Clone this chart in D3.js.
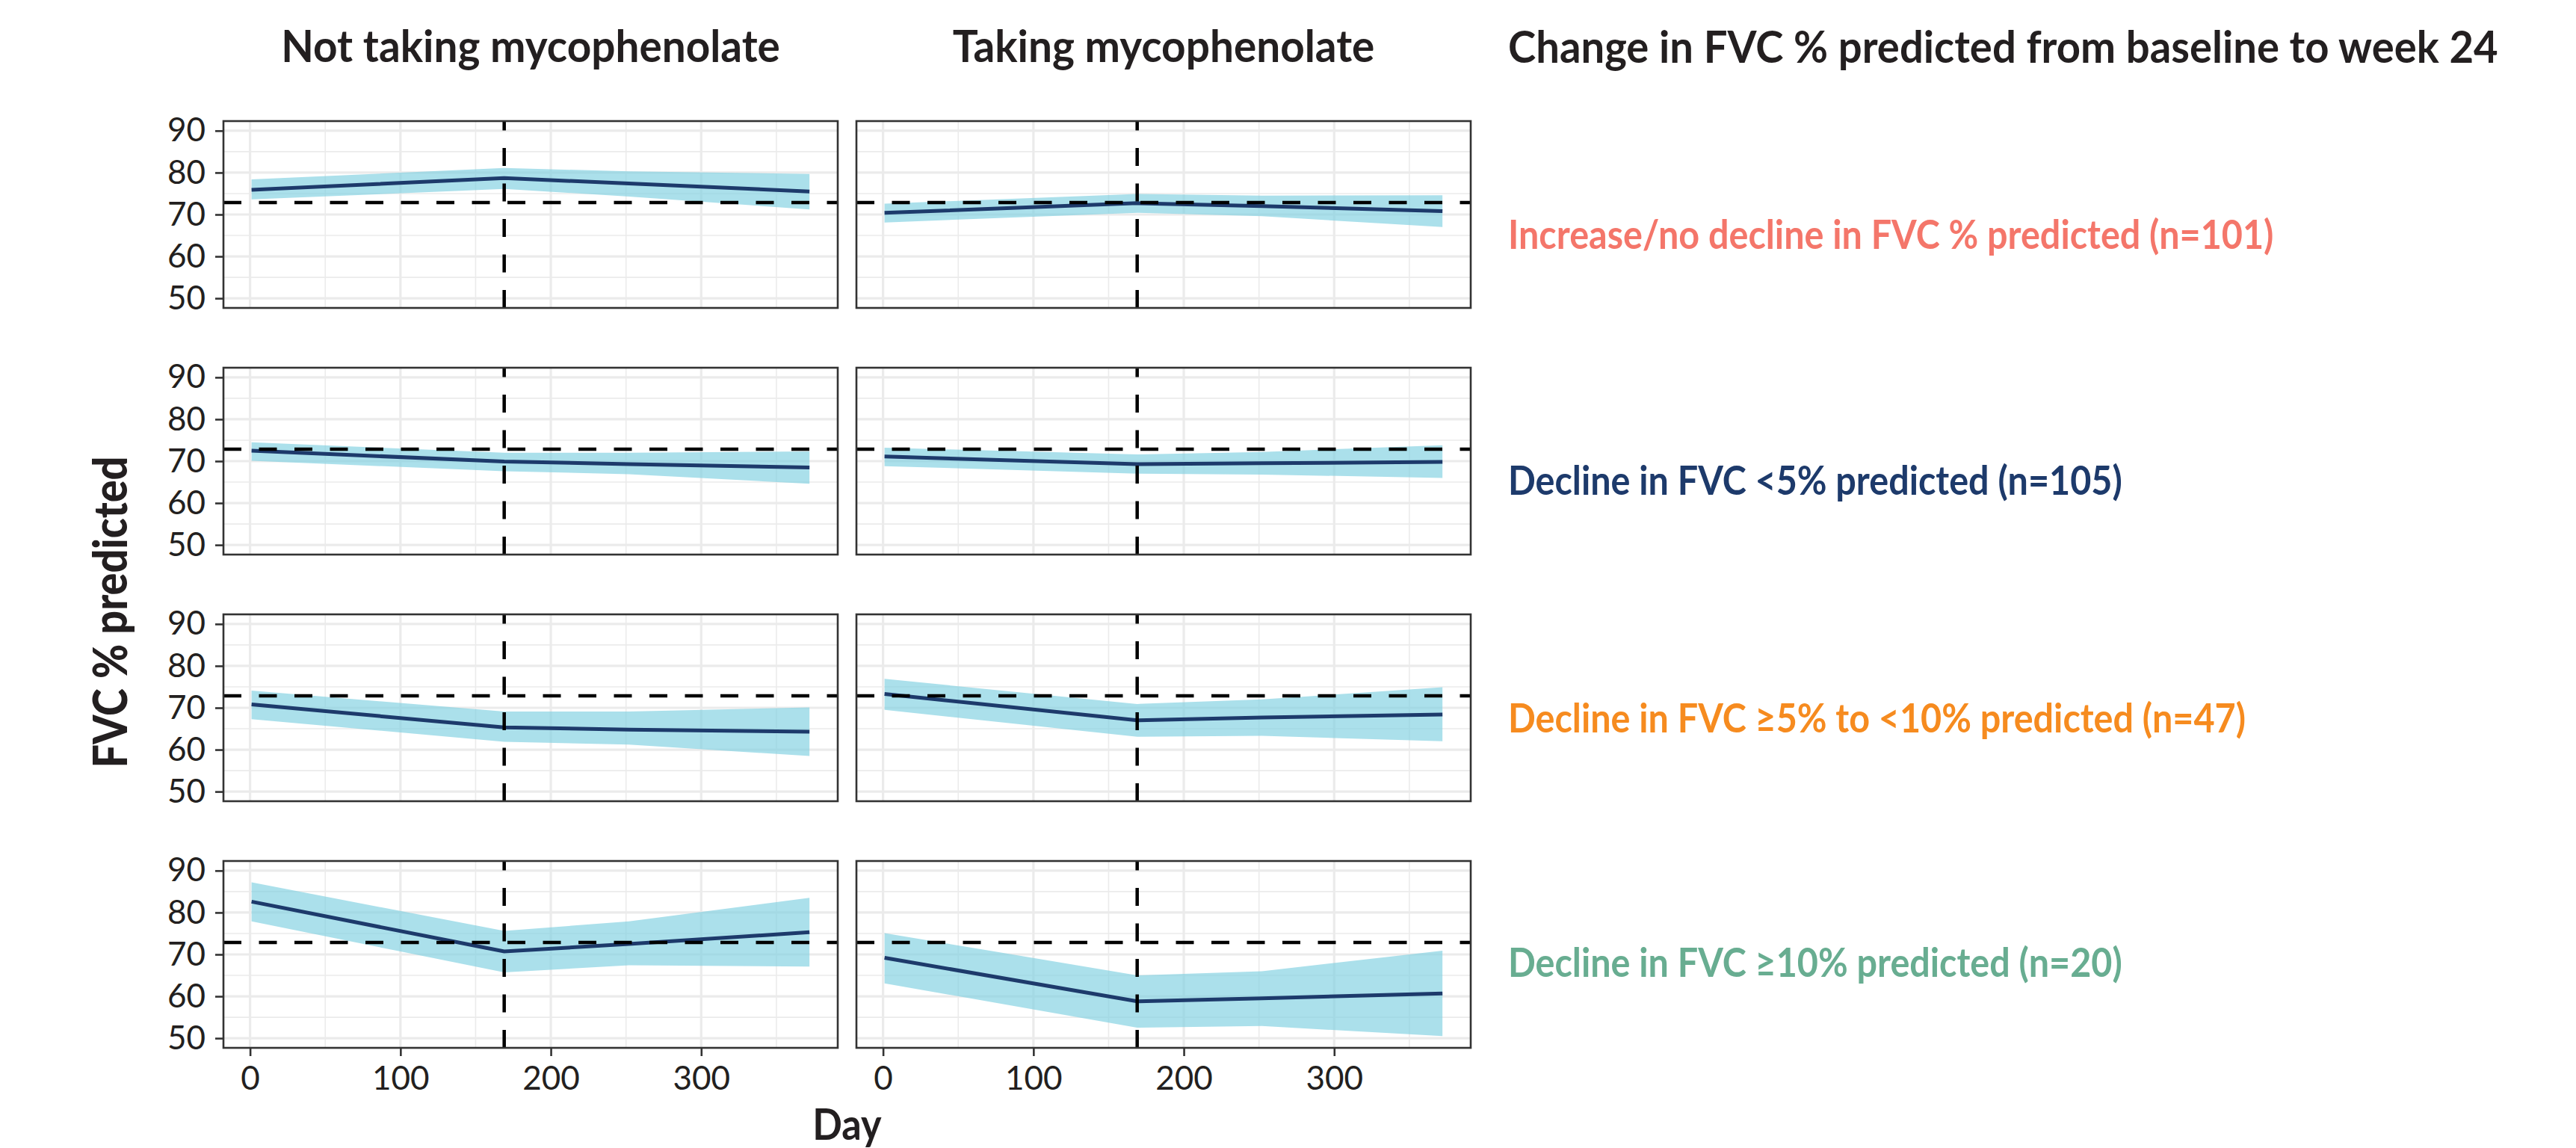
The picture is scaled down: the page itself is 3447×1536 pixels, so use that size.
<!DOCTYPE html>
<html>
<head>
<meta charset="utf-8">
<script src="https://cdn.jsdelivr.net/npm/d3@7"></script>
<style>
	body { margin: 0; background: #fff; }
	svg { display: block; font-family: Lato, 'Open Sans', sans-serif; }
</style>
</head>
<body>
<div id="app"></div>
<script>
// facets
const columns = ['Not taking mycophenolate', 'Taking mycophenolate'];
const groups = [
	'Increase/no decline in FVC % predicted (n=101)',
	'Decline in FVC <5% predicted (n=105)',
	'Decline in FVC \u22655% to <10% predicted (n=47)',
	'Decline in FVC \u226510% predicted (n=20)',
];
const groupColors = ['#f4766a', '#1d3a6b', '#f68b1f', '#68ad91'];
const legendTitle = 'Change in FVC % predicted from baseline to week 24';

// model estimates at each visit day, one row per group
const days = [1, 169, 252, 372];
const notTakingMean = [
	[75.9, 78.7, 77.4, 75.5],
	[72.5, 69.9, 69.3, 68.5],
	[70.8, 65.3, 64.8, 64.3],
	[82.6, 70.7, 72.5, 75.3],
];
const notTakingUpper = [
	[78.4, 81.1, 80.3, 79.7],
	[74.5, 72.0, 72.0, 72.3],
	[74.1, 69.1, 69.1, 70.1],
	[87.2, 75.6, 77.9, 83.5],
];
const notTakingLower = [
	[73.6, 76.1, 74.3, 71.2],
	[70.1, 67.6, 66.9, 64.6],
	[67.3, 61.9, 61.2, 58.5],
	[77.9, 65.7, 67.4, 67.1],
];
const takingMean = [
	[70.4, 72.7, 72.0, 70.8],
	[71.1, 69.3, 69.5, 69.8],
	[73.3, 67.0, 67.7, 68.4],
	[69.2, 58.8, 59.5, 60.7],
];
const takingUpper = [
	[72.6, 74.9, 74.5, 74.6],
	[73.2, 71.6, 72.2, 73.8],
	[76.9, 70.9, 72.0, 74.9],
	[75.1, 65.0, 66.0, 70.9],
];
const takingLower = [
	[68.1, 70.4, 69.6, 67.0],
	[68.8, 67.0, 66.8, 66.0],
	[69.5, 63.1, 63.3, 62.0],
	[63.1, 52.5, 52.9, 50.5],
];

// reference lines
const baselineFvc = 72.85;
const week24Day = 169;

const xTicks = [0, 100, 200, 300];
const xMinor = [50, 150, 250, 350];
const yTicks = [50, 60, 70, 80, 90];
const yMinor = [55, 65, 75, 85];

const render = () => {
	const width = 3447;
	const height = 1536;
	const ink = '#231f20';
	const panelW = 822;
	const panelH = 250;
	const colX = [299, 1146];
	const rowY = [162, 492, 822, 1152];
	const legendX = 2018;
	const legendY = [333, 662, 980, 1307];

	const svg = d3.select('#app').append('svg')
		.attr('width', width)
		.attr('height', height);

	const x = d3.scaleLinear().domain([-17.7, 390.8]).range([0, panelW]);
	const y = d3.scaleLinear().domain([47.7, 92.3]).range([panelH, 0]);

	// font is wider than the original one, squeeze it a bit
	const condense = (sel, k) => sel.each(function () {
		const len = this.getComputedTextLength();
		d3.select(this)
			.attr('textLength', len * k)
			.attr('lengthAdjust', 'spacingAndGlyphs');
	});

	const series = [
		{ mean: notTakingMean, upper: notTakingUpper, lower: notTakingLower },
		{ mean: takingMean, upper: takingUpper, lower: takingLower },
	];

	const area = d3.area()
		.x((d) => x(d.day))
		.y0((d) => y(d.lo))
		.y1((d) => y(d.hi));

	const line = d3.line()
		.x((d) => x(d.day))
		.y((d) => y(d.mid));

	columns.forEach((column, c) => {
		groups.forEach((group, r) => {
			const s = series[c];
			const points = days.map((day, i) => ({
				day,
				mid: s.mean[r][i],
				hi: s.upper[r][i],
				lo: s.lower[r][i],
			}));

			const g = svg.append('g')
				.attr('transform', `translate(${colX[c]},${rowY[r]})`);

			const clipId = `clip-${c}-${r}`;
			g.append('clipPath').attr('id', clipId)
				.append('rect').attr('width', panelW).attr('height', panelH);

			const inner = g.append('g').attr('clip-path', `url(#${clipId})`);

			inner.append('rect')
				.attr('width', panelW)
				.attr('height', panelH)
				.attr('fill', '#fff');

			inner.selectAll('.minor-y').data(yMinor).join('line')
				.attr('x1', 0).attr('x2', panelW)
				.attr('y1', (d) => y(d)).attr('y2', (d) => y(d))
				.attr('stroke', '#ebebeb').attr('stroke-width', 1.6);
			inner.selectAll('.minor-x').data(xMinor).join('line')
				.attr('y1', 0).attr('y2', panelH)
				.attr('x1', (d) => x(d)).attr('x2', (d) => x(d))
				.attr('stroke', '#ebebeb').attr('stroke-width', 1.6);
			inner.selectAll('.major-y').data(yTicks).join('line')
				.attr('x1', 0).attr('x2', panelW)
				.attr('y1', (d) => y(d)).attr('y2', (d) => y(d))
				.attr('stroke', '#ebebeb').attr('stroke-width', 3.2);
			inner.selectAll('.major-x').data(xTicks).join('line')
				.attr('y1', 0).attr('y2', panelH)
				.attr('x1', (d) => x(d)).attr('x2', (d) => x(d))
				.attr('stroke', '#ebebeb').attr('stroke-width', 3.2);

			inner.append('path')
				.attr('d', area(points))
				.attr('fill', '#7fd0e0')
				.attr('fill-opacity', 0.66);

			inner.append('path')
				.attr('d', line(points))
				.attr('fill', 'none')
				.attr('stroke', '#1d3a6b')
				.attr('stroke-width', 5);

			// hline drawn left to right, vline bottom to top
			inner.append('line')
				.attr('x1', 0).attr('x2', panelW)
				.attr('y1', y(baselineFvc)).attr('y2', y(baselineFvc))
				.attr('stroke', '#000')
				.attr('stroke-width', 4.5)
				.attr('stroke-dasharray', '24,23.5');
			inner.append('line')
				.attr('x1', x(week24Day)).attr('x2', x(week24Day))
				.attr('y1', panelH).attr('y2', 0)
				.attr('stroke', '#000')
				.attr('stroke-width', 4.5)
				.attr('stroke-dasharray', '24,23.5');

			g.append('rect')
				.attr('width', panelW)
				.attr('height', panelH)
				.attr('fill', 'none')
				.attr('stroke', '#333')
				.attr('stroke-width', 2.6);

			if (c === 0) {
				const ay = g.append('g')
					.call(d3.axisLeft(y).tickValues(yTicks).tickSize(11).tickPadding(13));
				ay.select('.domain').remove();
				ay.selectAll('line').attr('stroke', '#333').attr('stroke-width', 2.6);
				ay.selectAll('text')
					.attr('fill', ink)
					.attr('font-size', 44)
					.attr('font-family', 'Lato, sans-serif');
			}
			if (r === groups.length - 1) {
				const ax = g.append('g')
					.attr('transform', `translate(0,${panelH})`)
					.call(d3.axisBottom(x).tickValues(xTicks).tickSize(11).tickPadding(14));
				ax.select('.domain').remove();
				ax.selectAll('line').attr('stroke', '#333').attr('stroke-width', 2.6);
				ax.selectAll('text')
					.attr('fill', ink)
					.attr('font-size', 44)
					.attr('font-family', 'Lato, sans-serif');
			}
		});

		svg.append('text')
			.attr('x', colX[c] + panelW / 2)
			.attr('y', 83)
			.attr('text-anchor', 'middle')
			.attr('font-size', 60)
			.attr('font-weight', 700)
			.attr('fill', ink)
			.text(column)
			.call(condense, 0.945);
	});

	// axis titles
	svg.append('text')
		.attr('x', (colX[0] + colX[1] + panelW) / 2)
		.attr('y', 1525)
		.attr('text-anchor', 'middle')
		.attr('font-size', 58)
		.attr('font-weight', 700)
		.attr('fill', ink)
		.text('Day')
		.call(condense, 0.9);

	svg.append('text')
		.attr('transform', 'translate(170,819) rotate(-90)')
		.attr('text-anchor', 'middle')
		.attr('font-size', 62)
		.attr('font-weight', 900)
		.attr('fill', ink)
		.text('FVC % predicted')
		.call(condense, 0.9);

	// group labels on the right
	svg.append('text')
		.attr('x', legendX)
		.attr('y', 84)
		.attr('font-size', 60)
		.attr('font-weight', 700)
		.attr('fill', ink)
		.text(legendTitle)
		.call(condense, 0.937);

	svg.selectAll('.group-label')
		.data(groups)
		.join('text')
		.attr('class', 'group-label')
		.attr('x', legendX)
		.attr('y', (d, i) => legendY[i])
		.attr('font-size', 53)
		.attr('font-weight', 700)
		.attr('fill', (d, i) => groupColors[i])
		.text((d) => d)
		.call(condense, 0.915);
};

render();
</script>
</body>
</html>
